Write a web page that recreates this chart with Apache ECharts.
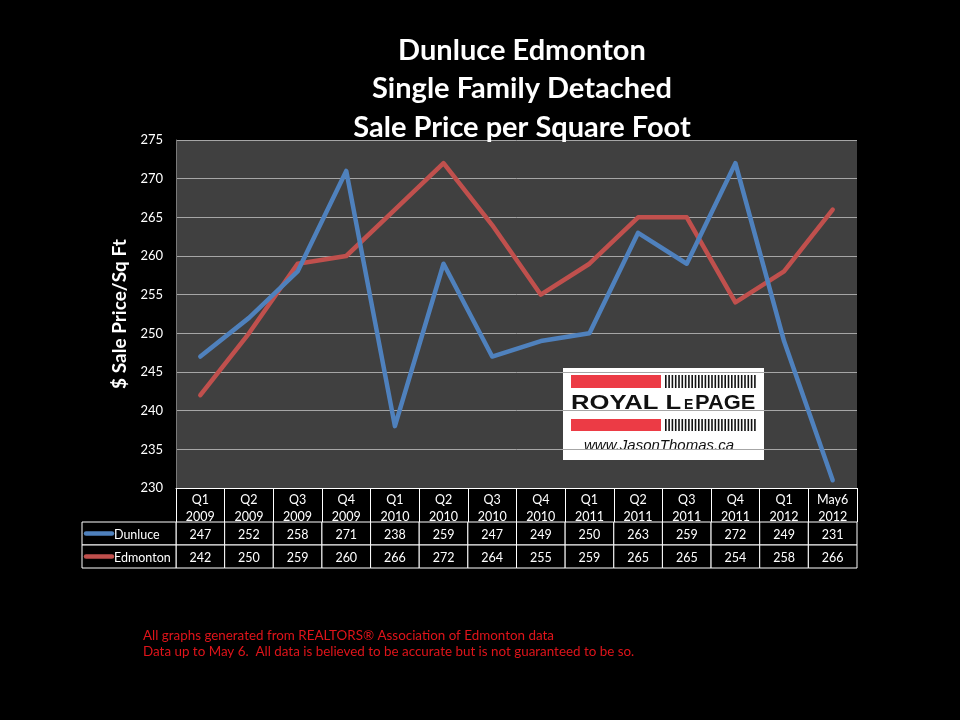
<!DOCTYPE html>
<html>
<head>
<meta charset="utf-8">
<script src="https://cdn.jsdelivr.net/npm/echarts@6/dist/echarts.min.js"></script>
<style>
html,body{margin:0;padding:0;background:#000;}
#c{width:960px;height:720px;}
</style>
</head>
<body>
<div id="c"></div>
<script>
const categories = ['Q1\n2009','Q2\n2009','Q3\n2009','Q4\n2009','Q1\n2010','Q2\n2010','Q3\n2010','Q4\n2010','Q1\n2011','Q2\n2011','Q3\n2011','Q4\n2011','Q1\n2012','May6\n2012'];
const dunluce = [247,252,258,271,238,259,247,249,250,263,259,272,249,231];
const edmonton = [242,250,259,260,266,272,264,255,259,265,265,254,258,266];
const seriesNames = ['Dunluce','Edmonton'];
const yMin = 230, yMax = 275, yStep = 5;
const titleLines = ['Dunluce Edmonton','Single Family Detached','Sale Price per Square Foot'];
const yAxisTitle = '$ Sale Price/Sq Ft';
const footerLines = ['All graphs generated from REALTORS\u00AE Association of Edmonton data','Data up to May 6.  All data is believed to be accurate but is not guaranteed to be so.'];

const FONT = 'Lato, "Open Sans", sans-serif';
const LOGOFONT = '"Liberation Sans", Arial, sans-serif';
const BLUE = '#4f81bd', RED = '#c0504d';
const colors = [BLUE, RED];
const seriesValues = [dunluce, edmonton];

const tableData = [];
seriesValues.forEach((vals, r) => vals.forEach((v, i) => tableData.push([i, r, v])));

const chart = echarts.init(document.getElementById('c'), null, {renderer: 'canvas'});

function stripes(x0, y0, w, h) {
  const out = [];
  for (let x = x0; x < x0 + w; x += 3.3) {
    out.push({type: 'rect', shape: {x: x, y: y0, width: 1.6, height: h}, style: {fill: '#111'}});
  }
  return out;
}

const option = {
  backgroundColor: '#000',
  animation: false,
  graphic: [
    {type: 'text', z: 10,
     style: {x: 522, y: 31, text: titleLines.join('\n'), fill: '#fff', font: 'bold 29px ' + FONT, lineHeight: 38.5, align: 'center', verticalAlign: 'top'}},
    {type: 'text', z: 10,
     style: {x: 143, y: 628, text: footerLines.join('\n'), fill: '#e0141a', font: '13.4px ' + FONT, lineHeight: 16, align: 'left', verticalAlign: 'top'}},
    {type: 'group', x: 563, y: 368, z: 20, children: [
      {type: 'rect', shape: {x: 0, y: 0, width: 201, height: 92}, style: {fill: '#fff'}},
      {type: 'rect', shape: {x: 8, y: 7, width: 90, height: 13}, style: {fill: '#ec3b45'}},
      ...stripes(102, 7, 91, 13),
      {type: 'text', x: 8, y: 35, scaleX: 1.22, style: {x: 0, y: 0, text: 'ROYAL L', fill: '#111', font: 'bold 21px ' + LOGOFONT, verticalAlign: 'middle'}},
      {type: 'text', x: 121, y: 37, scaleX: 1.0, style: {x: 0, y: 0, text: 'E', fill: '#111', font: 'bold 14px ' + LOGOFONT, verticalAlign: 'middle'}},
      {type: 'text', x: 132, y: 35, scaleX: 1.04, style: {x: 0, y: 0, text: 'PAGE', fill: '#111', font: 'bold 21px ' + LOGOFONT, verticalAlign: 'middle'}},
      {type: 'rect', shape: {x: 8, y: 51, width: 90, height: 12}, style: {fill: '#ec3b45'}},
      ...stripes(102, 51, 91, 12),
      {type: 'text', style: {x: 21, y: 78, text: 'www.JasonThomas.ca', fill: '#111', font: 'italic 15px ' + LOGOFONT, verticalAlign: 'middle'}}
    ]}
  ],
  grid: [
    {left: 176, right: 103, top: 140, bottom: 232, show: true, backgroundColor: '#404040', borderWidth: 0},
    {left: 176, right: 103, top: 522, height: 46}
  ],
  xAxis: [
    {type: 'category', gridIndex: 0, data: categories, boundaryGap: true,
     axisLine: {show: true, lineStyle: {color: '#ffffff', width: 1}},
     axisTick: {show: true, length: 34, interval: 0, lineStyle: {color: '#ffffff', width: 1}},
     axisLabel: {color: '#fff', fontSize: 12.5, fontFamily: FONT, lineHeight: 17, margin: 3, interval: 0},
     splitLine: {show: false}},
    {type: 'category', gridIndex: 1, data: categories, boundaryGap: true, show: false}
  ],
  yAxis: [
    {type: 'value', gridIndex: 0, min: yMin, max: yMax, interval: yStep,
     name: yAxisTitle, nameLocation: 'middle', nameGap: 32, nameRotate: 90,
     nameTextStyle: {color: '#fff', fontSize: 19, fontWeight: 'bold', fontFamily: FONT},
     axisLine: {show: true, lineStyle: {color: '#7a7a7a'}},
     axisTick: {show: false},
     axisLabel: {color: '#fff', fontSize: 13, fontFamily: FONT, margin: 13},
     splitLine: {show: true, lineStyle: {color: '#a6a6a6', width: 1}}},
    {type: 'category', gridIndex: 1, data: seriesNames, inverse: true, show: false}
  ],
  series: [
    {name: seriesNames[0], type: 'line', xAxisIndex: 0, yAxisIndex: 0, data: dunluce,
     symbol: 'none', lineStyle: {color: BLUE, width: 4.5, cap: 'round', join: 'round'}, z: 3},
    {name: seriesNames[1], type: 'line', xAxisIndex: 0, yAxisIndex: 0, data: edmonton,
     symbol: 'none', lineStyle: {color: RED, width: 4.5, cap: 'round', join: 'round'}, z: 2},
    {type: 'custom', xAxisIndex: 1, yAxisIndex: 1, data: tableData,
     renderItem: function (params, api) {
       const xi = api.value(0), yi = api.value(1);
       const c = api.coord([xi, yi]);
       const s = api.size([1, 1]);
       const children = [
         {type: 'rect', shape: {x: c[0] - s[0] / 2, y: c[1] - s[1] / 2, width: s[0], height: s[1]},
          style: {fill: '#000', stroke: '#fff', lineWidth: 1}},
         {type: 'text', style: {x: c[0], y: c[1] + 1, text: String(api.value(2)), fill: '#fff', font: '12.5px ' + FONT, align: 'center', verticalAlign: 'middle'}}
       ];
       if (xi === 0) {
         const lx = c[0] - s[0] / 2 - 94;
         children.push(
           {type: 'rect', shape: {x: lx, y: c[1] - s[1] / 2, width: 94, height: s[1]},
            style: {fill: '#000', stroke: '#fff', lineWidth: 1}},
           {type: 'line', shape: {x1: lx + 4, y1: c[1], x2: lx + 30, y2: c[1]},
            style: {stroke: colors[yi], lineWidth: 4.5, lineCap: 'round'}},
           {type: 'text', style: {x: lx + 32, y: c[1] + 1, text: seriesNames[yi], fill: '#fff', font: '12.5px ' + FONT, align: 'left', verticalAlign: 'middle'}}
         );
       }
       return {type: 'group', children: children};
     }}
  ]
};
chart.setOption(option);
</script>
</body>
</html>
